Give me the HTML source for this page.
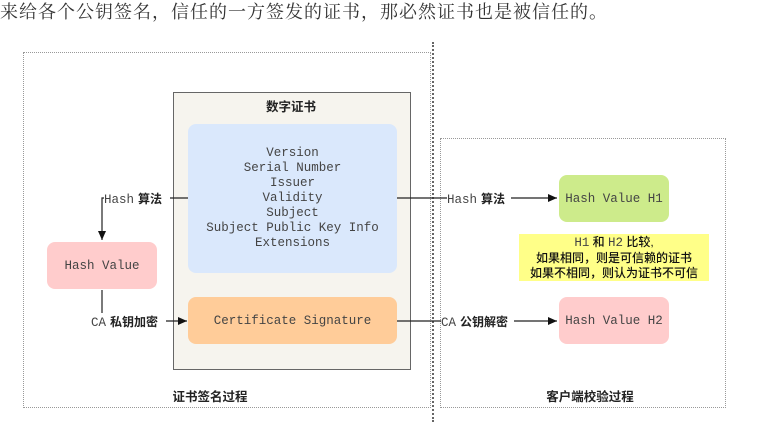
<!DOCTYPE html>
<html><head><meta charset="utf-8"><style>
body{margin:0;width:757px;height:440px;background:#fff;position:relative;overflow:hidden}
.a{position:absolute}
.mono{font-family:"Liberation Mono",monospace;font-size:12.5px;color:#444}
.cj{font-family:"Liberation Sans","Noto Sans CJK SC",sans-serif;font-weight:bold;font-size:12px;color:#222}
.box{position:absolute;display:flex;align-items:center;justify-content:center;text-align:center;border-radius:8px}
</style></head><body>
<div class="a" style="left:0;top:-2px;font-family:'Liberation Serif','Noto Serif CJK SC',serif;font-size:18px;letter-spacing:1px;color:#333;white-space:nowrap">来给各个公钥签名，信任的一方签发的证书，那必然证书也是被信任的。</div>
<div class="a" style="left:23px;top:52px;width:406px;height:354px;border:1px dotted #999"></div>
<div class="a" style="left:440px;top:138px;width:284px;height:268px;border:1px dotted #999"></div>
<div class="a" style="left:432px;top:42px;width:0;height:380px;border-left:2px dotted #666"></div>
<div class="a" style="left:173px;top:92px;width:236px;height:276px;background:#f6f4ee;border:1px solid #666"></div>
<div class="a cj" style="left:173px;top:96px;width:236px;text-align:center;font-size:12.5px">数字证书</div>
<div class="box mono" style="left:188px;top:124px;width:209px;height:149px;background:#dae8fc;line-height:15px">Version<br>Serial Number<br>Issuer<br>Validity<br>Subject<br>Subject Public Key Info<br>Extensions</div>
<div class="box mono" style="left:188px;top:297px;width:209px;height:47px;background:#ffcc99">Certificate Signature</div>
<div class="box mono" style="left:47px;top:242px;width:110px;height:47px;background:#ffcccc">Hash Value</div>
<div class="box mono" style="left:559px;top:175px;width:110px;height:47px;background:#cdeb8b">Hash Value H1</div>
<div class="box mono" style="left:559px;top:297px;width:110px;height:47px;background:#ffcccc">Hash Value H2</div>
<div class="a" style="left:519px;top:234px;width:190px;height:47px;background:#ffff88"></div>
<div class="a cj" style="left:519px;top:235px;width:190px;text-align:center;line-height:15px;color:#111;font-weight:500"><span class="mono">H1</span> 和 <span class="mono">H2</span> 比较,<br>如果相同，则是可信赖的证书<br>如果不相同，则认为证书不可信</div>
<svg class="a" style="left:0;top:0" width="757" height="440">
<defs><marker id="m" markerWidth="10" markerHeight="10" refX="9" refY="5" orient="auto" markerUnits="userSpaceOnUse"><path d="M0,1 L9,5 L0,9 Z" fill="#111"/></marker></defs>
<g stroke="#222" stroke-width="1.2" fill="none">
<path d="M188,198 H170"/>
<path d="M104,198 H102 V240" marker-end="url(#m)"/>
<path d="M102,290 V313"/>
<path d="M166,321 H187" marker-end="url(#m)"/>
<path d="M397,198 H447"/>
<path d="M511,198 H557" marker-end="url(#m)"/>
<path d="M397,321 H441"/>
<path d="M514,321 H557" marker-end="url(#m)"/>
</g></svg>
<div class="a" style="left:104px;top:190px;white-space:nowrap"><span class="mono">Hash</span> <span class="cj">算法</span></div>
<div class="a" style="left:91px;top:313px;white-space:nowrap"><span class="mono">CA</span> <span class="cj">私钥加密</span></div>
<div class="a" style="left:447px;top:190px;white-space:nowrap"><span class="mono">Hash</span> <span class="cj">算法</span></div>
<div class="a" style="left:441px;top:313px;white-space:nowrap"><span class="mono">CA</span> <span class="cj">公钥解密</span></div>
<div class="a cj" style="left:160px;top:386px;width:100px;text-align:center;font-size:12.5px">证书签名过程</div>
<div class="a cj" style="left:530px;top:386px;width:120px;text-align:center;font-size:12.5px">客户端校验过程</div>
</body></html>
